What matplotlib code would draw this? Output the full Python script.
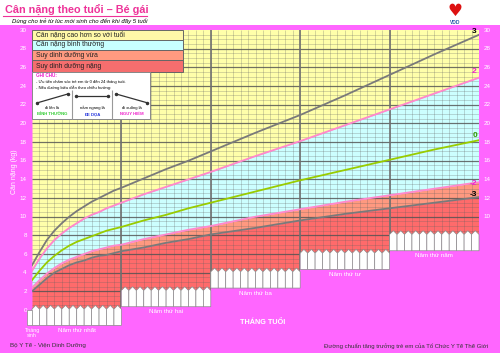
# Can nang theo tuoi - Be gai (WHO weight-for-age, girls 0-5 years)
import matplotlib.pyplot as plt
import numpy as np
from matplotlib.patches import Polygon, Rectangle

plt.rcParams['font.family'] = ['Liberation Sans', 'DejaVu Sans']

# months and z-score curves (kg)
months = [0, 1, 2, 3, 4, 5, 6, 7, 8, 9, 10, 11, 12, 15, 18, 21, 24, 30, 36, 42, 48, 54, 60]
sd3neg = [2.0, 2.7, 3.4, 4.0, 4.4, 4.8, 5.1, 5.3, 5.6, 5.8, 5.9, 6.1, 6.3, 6.7, 7.2, 7.6, 8.1, 8.8, 9.6, 10.3, 10.9, 11.5, 12.1]
sd2neg = [2.4, 3.2, 3.9, 4.5, 5.0, 5.4, 5.7, 6.0, 6.3, 6.5, 6.7, 6.9, 7.0, 7.6, 8.1, 8.6, 9.0, 10.0, 10.8, 11.6, 12.3, 13.0, 13.7]
median = [3.2, 4.2, 5.1, 5.8, 6.4, 6.9, 7.3, 7.6, 7.9, 8.2, 8.5, 8.7, 8.9, 9.6, 10.2, 10.9, 11.5, 12.7, 13.9, 15.0, 16.1, 17.2, 18.2]
sd2 = [4.2, 5.5, 6.6, 7.5, 8.2, 8.8, 9.3, 9.8, 10.2, 10.5, 10.9, 11.2, 11.5, 12.4, 13.2, 14.0, 14.8, 16.5, 18.1, 19.8, 21.5, 23.2, 24.9]
sd3 = [4.8, 6.2, 7.5, 8.5, 9.3, 10.0, 10.6, 11.1, 11.6, 12.0, 12.4, 12.8, 13.1, 14.1, 15.1, 16.0, 17.0, 19.0, 20.9, 23.0, 25.2, 27.4, 29.5]

legend_labels = ['Cân nặng cao hơn so với tuổi', 'Cân nặng bình thường',
                 'Suy dinh dưỡng vừa', 'Suy dinh dưỡng nặng']
year_labels = ['Năm thứ nhất', 'Năm thứ hai', 'Năm thứ ba', 'Năm thứ tư', 'Năm thứ năm']
left_ticks = list(range(0, 31, 2))
right_ticks = list(range(10, 31, 2))

MAGENTA = '#FF66FF'
YELLOW = '#FFFFAA'
CYAN = '#CCFFFF'
SALMON = '#FF9980'
RED = '#FF6B6B'
GRAY = '#7A7A7A'
PINK = '#FF88CC'
GREEN = '#99CC00'

fig = plt.figure(figsize=(5, 3.53), dpi=100)
fig.patch.set_facecolor(MAGENTA)
fig.patches.append(Rectangle((0, 1 - 25 / 353), 1, 25 / 353, transform=fig.transFigure,
                             facecolor='white', edgecolor='none', zorder=0))

ax = fig.add_axes([0, 0, 1, 1])
ax.set_xlim(-32 / 7.45, 468 / 7.45)
ax.set_ylim(-43 / 9.33, 310 / 9.33)
ax.axis('off')
ax.patch.set_alpha(0)

# stepped chart area (each year sits on its own fence)
step = [(0, 30), (60, 30), (60, 8), (48, 8), (48, 6), (36, 6), (36, 4),
        (24, 4), (24, 2), (12, 2), (12, 0), (0, 0)]
clip = Polygon(step, closed=True, transform=ax.transData)

def clipped(artist):
    artist.set_clip_path(clip)
    return artist

clipped(ax.fill_between(months, 0, sd3neg, color=RED, lw=0, zorder=1))
clipped(ax.fill_between(months, sd3neg, sd2neg, color=SALMON, lw=0, zorder=1))
clipped(ax.fill_between(months, sd2neg, sd2, color=CYAN, lw=0, zorder=1))
clipped(ax.fill_between(months, sd2, 30, color=YELLOW, lw=0, zorder=1))

# grid (semi-transparent so it takes the tint of the zone below)
clipped(ax.hlines(np.arange(0.5, 30, 0.5), 0, 60, color='#606060', alpha=0.3, lw=0.6, zorder=2))
clipped(ax.vlines(np.arange(1, 60), 0, 30, color='#606060', alpha=0.3, lw=0.6, zorder=2))
clipped(ax.hlines(np.arange(2, 30, 2), 0, 60, color='#505050', alpha=0.75, lw=0.9, zorder=2))
clipped(ax.vlines([12, 24, 36, 48], 0, 30, color='#707070', alpha=0.85, lw=1.4, zorder=2))

# curves
for vals, col in [(sd3neg, GRAY), (sd2neg, PINK), (median, GREEN), (sd2, PINK), (sd3, GRAY)]:
    clipped(ax.plot(months, vals, color=col, lw=1.3, zorder=3)[0])

for txt, x, y, col in [('3', 59.4, 29.8, 'black'), ('2', 59.4, 25.6, '#EE22CC'),
                       ('0', 59.4, 18.65, '#339900'), ('-2', 59.3, 13.6, '#EE22CC'),
                       ('-3', 59.2, 12.4, 'black')]:
    ax.text(x, y, txt, color=col, fontsize=6, fontweight='bold', ha='center', va='center', zorder=6)

# legend boxes
tops = [30, 28.95, 27.9, 26.75]
bots = [28.95, 27.9, 26.75, 25.5]
for lab, t, b, col in zip(legend_labels, tops, bots, ['#FFF8A8', '#C8FFFF', '#FF9A80', '#F56E6E']):
    ax.add_patch(Rectangle((0, b), 20.3, t - b, facecolor=col, edgecolor='#666666', lw=0.7, zorder=4))
    ax.text(0.5, (t + b) / 2, lab, fontsize=4.9, va='center', ha='left', color='#222222', zorder=5)

# note box
ax.add_patch(Rectangle((0, 20.45), 15.85, 25.5 - 20.45, facecolor='white', edgecolor='#888888', lw=0.7, zorder=4))
ax.text(0.5, 25.1, 'GHI CHÚ:', fontsize=3.3, color='#EE22CC', fontweight='bold', va='center', zorder=5)
ax.text(0.5, 24.45, '- Ưu tiên chăm sóc trẻ em từ 0 đến 24 tháng tuổi.', fontsize=3.0, va='center', zorder=5)
ax.text(0.5, 23.85, '- Nếu đường biểu diễn theo chiều hướng:', fontsize=3.0, va='center', zorder=5)
ax.vlines([5.37, 10.74], 20.45, 23.55, color='#999999', lw=0.8, zorder=5)
ax.plot([0.7, 4.8], [22.2, 23.15], color='#333333', lw=0.9, marker='o', ms=1.5, zorder=5)
ax.plot([5.9, 10.2], [22.95, 22.95], color='#333333', lw=0.9, marker='o', ms=1.5, zorder=5)
ax.plot([11.3, 15.5], [23.15, 22.2], color='#333333', lw=0.9, marker='o', ms=1.5, zorder=5)
for xc, t1, t2, col in [(2.7, 'đi lên là', 'BÌNH THƯỜNG', '#33CC33'),
                        (8.05, 'nằm ngang là', 'ĐE DỌA', '#2233DD'),
                        (13.4, 'đi xuống là', 'NGUY HIỂM', '#EE22CC')]:
    ax.text(xc, 21.65, t1, fontsize=3.1, ha='center', va='center', zorder=5)
    ax.text(xc, 21.0, t2, fontsize=3.1, ha='center', va='center', color=col, fontweight='bold', zorder=5)

# fences
for k, lab in enumerate(year_labels):
    base = 2 * k
    for i in range(12):
        a = 12 * k + i
        pts = [(a, base - 1.65), (a + 1, base - 1.65), (a + 1, base + 0.1),
               (a + 0.5, base + 0.5), (a, base + 0.1)]
        ax.add_patch(Polygon(pts, closed=True, facecolor='white', edgecolor='#8A8A8A', lw=0.5, zorder=5))
    ax.text(12 * k + 6, base - 2.2, lab, color='white', fontsize=4.5, ha='center', va='center', zorder=6)
ax.add_patch(Rectangle((-0.65, -1.65), 0.65, 1.65, facecolor='white', edgecolor='#8A8A8A', lw=0.5, zorder=5))
ax.text(0, -2.45, 'Tháng\nsinh', color='white', fontsize=3.8, ha='center', va='center', linespacing=1.0, zorder=6)

# axis labels
for v in left_ticks:
    ax.text(-0.7, v, str(v), color='white', fontsize=4.5, ha='right', va='center')
for v in right_ticks:
    ax.text(60.6, v, str(v), color='white', fontsize=4.5, ha='left', va='center')
ax.text(-2.3, 14.8, 'Cân nặng (kg)', color='white', fontsize=5, rotation=90, ha='center', va='center')
ax.text(31, -1.3, 'THÁNG TUỔI', color='white', fontsize=5.2, fontweight='bold', ha='center', va='center')

# header / footer
fig.text(5 / 500, 1 - 10 / 353, 'Cân nặng theo tuổi – Bé gái', color='#EE3399', fontsize=7.8,
         fontweight='bold', va='center', ha='left')
fig.add_artist(plt.Line2D([3 / 500, 147 / 500], [1 - 16 / 353] * 2, color='#EE3399', lw=0.8))
fig.text(12 / 500, 1 - 21 / 353, 'Dùng cho trẻ từ lúc mới sinh cho đến khi đầy 5 tuổi', fontsize=4.3,
         style='italic', va='center', ha='left')
fig.text(10 / 500, 1 - 346 / 353, 'Bộ Y Tế - Viện Dinh Dưỡng', fontsize=4.5, color='#333333', va='center')
fig.text(488 / 500, 1 - 346 / 353, 'Đường chuẩn tăng trưởng trẻ em của Tổ Chức Y Tế Thế Giới',
         fontsize=4.3, color='#333333', va='center', ha='right')

# logos (rough)
fig.text(455 / 500, 1 - 11 / 353, '♥', color='#DD1111', fontsize=12, ha='center', va='center',
         family='DejaVu Sans')
fig.text(455 / 500, 1 - 22 / 353, 'VDD', color='#2255AA', fontsize=3.5, fontweight='bold', ha='center', va='center')
ax.plot([(487 - 32) / 7.45], [(310 - 11) / 9.33], marker='o', ms=15, mfc='#DDDDDD', mec='#555555', mew=1, zorder=6)
ax.plot([(487 - 32) / 7.45], [(310 - 11) / 9.33], marker='o', ms=8, mfc='#999999', mec='#444444', mew=0.6, zorder=6)

fig.savefig('out.png', dpi=100, facecolor=fig.get_facecolor())
